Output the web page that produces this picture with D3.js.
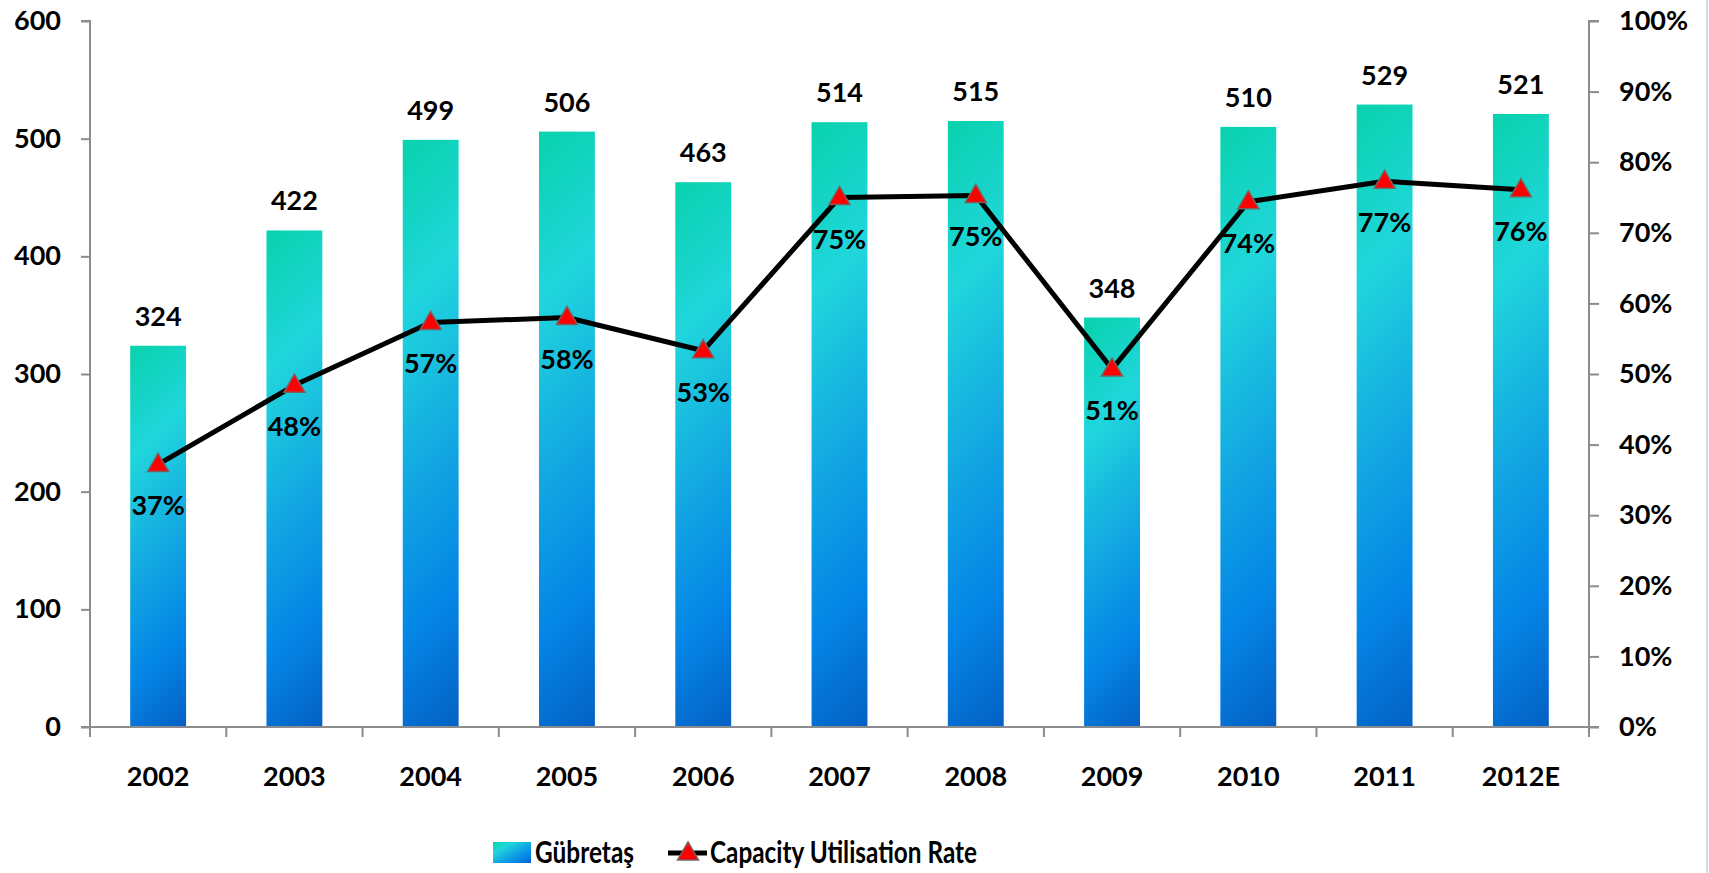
<!DOCTYPE html>
<html>
<head>
<meta charset="utf-8">
<script src="https://cdn.jsdelivr.net/npm/d3@7"></script>
<style>
  body { margin: 0; background: #fff; }
  text { font-family: Lato, "Open Sans", sans-serif; font-weight: bold; fill: #000; }
</style>
</head>
<body>
<svg></svg>
<script>
// chart data
var years = ["2002", "2003", "2004", "2005", "2006", "2007", "2008", "2009", "2010", "2011", "2012E"];
var production = [324, 422, 499, 506, 463, 514, 515, 348, 510, 529, 521];
var utilisation = [37.2, 48.4, 57.3, 58.0, 53.3, 75.0, 75.3, 50.7, 74.4, 77.3, 76.1];
var leftTicks = [0, 100, 200, 300, 400, 500, 600];
var rightTicks = [0, 10, 20, 30, 40, 50, 60, 70, 80, 90, 100];

var W = 1709, H = 873;
var margin = {top: 21, right: 120, bottom: 146, left: 90},
    width = W - margin.left - margin.right,
    height = H - margin.top - margin.bottom;

var svg = d3.select("svg").attr("width", W).attr("height", H);
var defs = svg.append("defs");

// faint chart border on the right
svg.append("line")
    .attr("x1", 1707).attr("x2", 1707).attr("y1", 0).attr("y2", H)
    .attr("stroke", "#d0d0d0").attr("stroke-width", 1.5);

var x = d3.scaleBand().domain(years).range([0, width]).paddingInner(0.59).paddingOuter(0.295);
var xb = d3.scaleBand().domain(years).range([0, width]);
var y = d3.scaleLinear().domain([0, 600]).range([height, 0]);
var y2 = d3.scaleLinear().domain([0, 100]).range([height, 0]);

var stops = [
    [0, "#08d2ac"], [0.26, "#20d6dc"], [0.55, "#12a6e2"], [0.78, "#0486e6"], [1, "#0460c4"]
];

// one diagonal gradient per bar
years.forEach(function(yr, i) {
    var bx = margin.left + x(yr), by = margin.top + y(production[i]);
    var bh = height - y(production[i]), bw = x.bandwidth();
    var d = (bw + bh) / 2;
    var grad = defs.append("linearGradient")
        .attr("id", "bar" + i)
        .attr("gradientUnits", "userSpaceOnUse")
        .attr("x1", bx).attr("y1", by)
        .attr("x2", bx + d).attr("y2", by + d);
    stops.forEach(function(s) {
        grad.append("stop").attr("offset", s[0]).attr("stop-color", s[1]);
    });
});

// bars first, so the line sits on top
svg.append("g").selectAll("rect")
    .data(production)
    .enter().append("rect")
    .attr("x", function(d, i) { return margin.left + x(years[i]); })
    .attr("y", function(d) { return margin.top + y(d); })
    .attr("width", x.bandwidth())
    .attr("height", function(d) { return height - y(d); })
    .attr("fill", function(d, i) { return "url(#bar" + i + ")"; });

var g = svg.append("g")
    .attr("transform", "translate(" + margin.left + "," + margin.top + ")");

// axes
var axisCol = "#8c8c8c";
var yAxis = g.append("g")
    .call(d3.axisLeft(y).tickValues(leftTicks).tickSize(9).tickPadding(20));
var y2Axis = g.append("g")
    .attr("transform", "translate(" + width + ",0)")
    .call(d3.axisRight(y2).tickValues(rightTicks).tickSize(10).tickPadding(20)
        .tickFormat(function(d) { return d + "%"; }));
var xAxis = g.append("g")
    .attr("transform", "translate(0," + height + ")")
    .call(d3.axisBottom(xb).tickSize(0).tickPadding(40));

[yAxis, y2Axis, xAxis].forEach(function(a) {
    a.selectAll("path, line").attr("stroke", axisCol).attr("stroke-width", 2);
    a.selectAll("text").style("font-size", "27px").attr("fill", "#000");
});
yAxis.select(".domain").attr("d", "M-9," + height + "H0V0H-9");
y2Axis.select(".domain").attr("d", "M10," + height + "H0V0H10");
xAxis.select(".domain").attr("d", "M-9,0H" + (width + 10));

// category separator ticks
g.append("g").selectAll("line")
    .data(years.concat(["end"]))
    .enter().append("line")
    .attr("x1", function(d, i) { return i * xb.step(); })
    .attr("x2", function(d, i) { return i * xb.step(); })
    .attr("y1", height).attr("y2", height + 10)
    .attr("stroke", axisCol).attr("stroke-width", 2);

// bar value labels
g.append("g").selectAll("text")
    .data(production)
    .enter().append("text")
    .attr("x", function(d, i) { return x(years[i]) + x.bandwidth() / 2; })
    .attr("y", function(d) { return y(d) - 20; })
    .attr("text-anchor", "middle")
    .style("font-size", "27px")
    .text(function(d) { return d; });

// utilisation line
var cx = function(i) { return xb(years[i]) + xb.bandwidth() / 2; };
var line = d3.line()
    .x(function(d, i) { return cx(i); })
    .y(function(d) { return y2(d); });

g.append("path")
    .datum(utilisation)
    .attr("fill", "none")
    .attr("stroke", "#000")
    .attr("stroke-width", 5)
    .attr("stroke-linejoin", "round")
    .attr("d", line);

var tri = d3.symbol().type(d3.symbolTriangle).size(190);
g.append("g").selectAll("path")
    .data(utilisation)
    .enter().append("path")
    .attr("d", tri)
    .attr("transform", function(d, i) { return "translate(" + cx(i) + "," + (y2(d) + 1) + ")"; })
    .attr("fill", "#ff0000")
    .attr("stroke", "#7a6060")
    .attr("stroke-width", 1.5);

g.append("g").selectAll("text")
    .data(utilisation)
    .enter().append("text")
    .attr("x", function(d, i) { return cx(i); })
    .attr("y", function(d) { return y2(d) + 51; })
    .attr("text-anchor", "middle")
    .style("font-size", "27px")
    .text(function(d) { return Math.round(d) + "%"; });

// legend
var leg = svg.append("g").attr("transform", "translate(0,853)");
var lg = defs.append("linearGradient").attr("id", "legGrad")
    .attr("x1", 0).attr("y1", 0).attr("x2", 1).attr("y2", 1);
stops.forEach(function(s) { lg.append("stop").attr("offset", s[0]).attr("stop-color", s[1]); });
leg.append("rect").attr("x", 493).attr("y", -11).attr("width", 38).attr("height", 21)
    .attr("fill", "url(#legGrad)");
leg.append("text").attr("x", 535).attr("y", 10).style("font-size", "30px")
    .attr("textLength", 99).attr("lengthAdjust", "spacingAndGlyphs").text("Gübretaş");
leg.append("line").attr("x1", 668).attr("x2", 707).attr("y1", 0).attr("y2", 0)
    .attr("stroke", "#000").attr("stroke-width", 5);
leg.append("path").attr("d", tri).attr("transform", "translate(688,1)")
    .attr("fill", "#ff0000").attr("stroke", "#7a6060").attr("stroke-width", 1.5);
leg.append("text").attr("x", 710).attr("y", 10).style("font-size", "30px")
    .attr("textLength", 267).attr("lengthAdjust", "spacingAndGlyphs").text("Capacity Utilisation Rate");
</script>
</body>
</html>
